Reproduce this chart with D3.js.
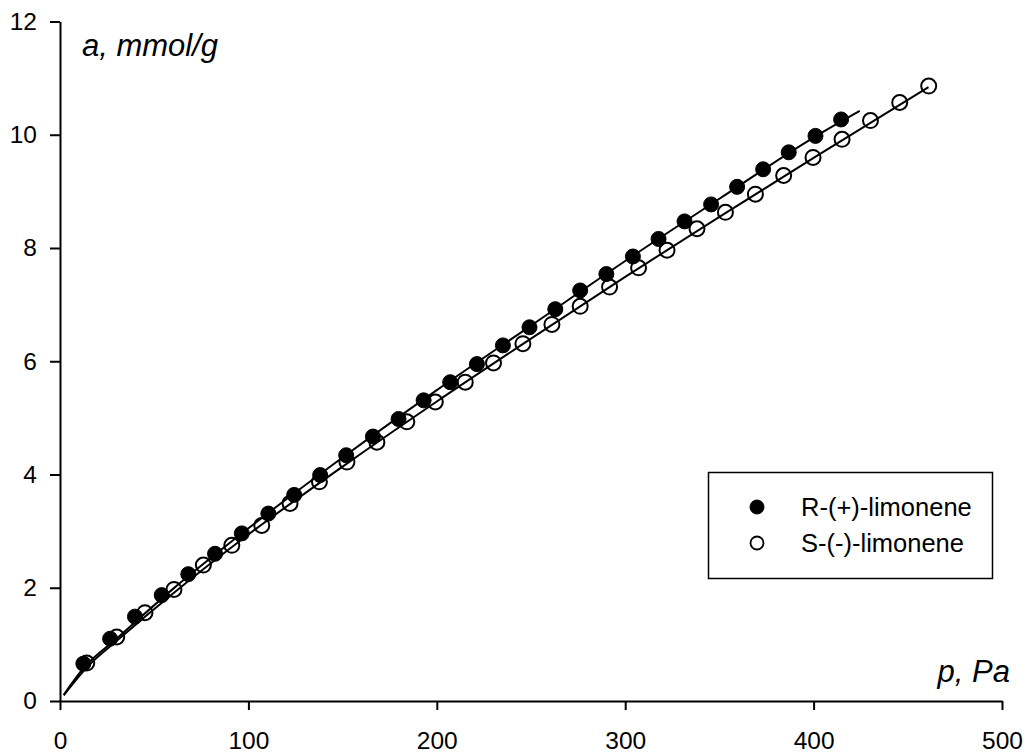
<!DOCTYPE html>
<html>
<head>
<meta charset="utf-8">
<script src="https://cdn.jsdelivr.net/npm/d3@7"></script>
<style>
  body { margin: 0; background: #fff; }
  text { font-family: "Liberation Sans", Arial, sans-serif; fill: #000; }
</style>
</head>
<body>
<div id="chart"></div>
<script>
// measured points, R-(+)-limonene (filled)
const rP = [12.4, 26.6, 39.8, 54.0, 68.1, 82.3, 96.5, 110.6, 124.3, 138.1, 151.9, 166.1, 179.7, 193.0, 207.1,
            221.3, 235.1, 249.2, 262.9, 276.1, 290.0, 304.1, 317.7, 331.5, 345.6, 359.4, 373.2, 386.8, 401.0, 414.6]
const rA = [0.66, 1.10, 1.49, 1.87, 2.24, 2.60, 2.96, 3.31, 3.64, 3.99, 4.34, 4.67, 4.98, 5.31, 5.63,
            5.95, 6.28, 6.60, 6.92, 7.25, 7.54, 7.85, 8.16, 8.47, 8.77, 9.08, 9.39, 9.69, 9.98, 10.27]

// measured points, S-(-)-limonene (open)
const sP = [14.2, 30.1, 45.1, 60.5, 76.1, 91.2, 107.1, 122.1, 137.7, 152.3, 168.2, 184.1, 199.2, 215.1, 230.1,
            245.7, 261.1, 276.1, 291.7, 307.1, 322.2, 338.1, 353.2, 369.1, 384.1, 399.7, 415.1, 430.2, 445.7, 461.1]
const sA = [0.67, 1.13, 1.56, 1.97, 2.40, 2.75, 3.10, 3.49, 3.87, 4.22, 4.57, 4.93, 5.28, 5.63, 5.97,
            6.31, 6.65, 6.97, 7.31, 7.65, 7.96, 8.34, 8.63, 8.95, 9.28, 9.60, 9.92, 10.25, 10.57, 10.86]

// fitted curves, nodes
const rFitP = [2, 13, 30, 60, 100, 150, 200, 250, 300, 350, 400, 424.5]
const rFitA = [0.11, 0.60, 1.10, 1.98, 3.05, 4.30, 5.49, 6.63, 7.77, 8.87, 9.95, 10.42]
const sFitP = [2, 15, 30, 60, 100, 150, 200, 250, 300, 350, 400, 461]
const sFitA = [0.10, 0.62, 1.06, 1.90, 2.94, 4.14, 5.29, 6.40, 7.49, 8.55, 9.59, 10.84]

const xTicks = [0, 100, 200, 300, 400, 500]
const yTicks = [0, 2, 4, 6, 8, 10, 12]
const seriesNames = ["R-(+)-limonene", "S-(-)-limonene"]

const W = 1029, H = 755

const x = d3.scaleLinear().domain([0, 500]).range([60, 1002])
const y = d3.scaleLinear().domain([0, 12]).range([701, 21.5])

const svg = d3.select("#chart").append("svg")
    .attr("width", W)
    .attr("height", H)

// axes
const xAxis = svg.append("g")
    .attr("transform", `translate(0,${y(0)})`)
    .call(d3.axisBottom(x).tickValues(xTicks).tickSize(9).tickSizeOuter(0).tickPadding(22))
const yAxis = svg.append("g")
    .attr("transform", `translate(${x(0)},0)`)
    .call(d3.axisLeft(y).tickValues(yTicks).tickSize(10).tickSizeOuter(0).tickPadding(13))

;[xAxis, yAxis].forEach(g => {
    g.select(".domain").attr("stroke", "#000").attr("stroke-width", 2)
    g.selectAll(".tick line").attr("stroke", "#000").attr("stroke-width", 2)
    g.selectAll(".tick text")
        .attr("font-size", 24.5)
        .attr("font-family", '"Liberation Sans", Arial, sans-serif')
        .attr("fill", "#000")
})

// axis titles
svg.append("text")
    .attr("x", 82).attr("y", 56)
    .attr("font-size", 31).attr("font-style", "italic")
    .text("a, mmol/g")
svg.append("text")
    .attr("x", 1010).attr("y", 682)
    .attr("text-anchor", "end")
    .attr("font-size", 31).attr("font-style", "italic")
    .text("p, Pa")

// fit lines
const line = d3.line()
    .x(d => x(d[0]))
    .y(d => y(d[1]))
    .curve(d3.curveMonotoneX)

const rFit = rFitP.map((p, i) => [p, rFitA[i]])
const sFit = sFitP.map((p, i) => [p, sFitA[i]])

;[rFit, sFit].forEach(d => {
    svg.append("path")
        .datum(d)
        .attr("d", line)
        .attr("fill", "none")
        .attr("stroke", "#000")
        .attr("stroke-width", 2)
})

// markers
const rData = rP.map((p, i) => ({ p: p, a: rA[i] }))
const sData = sP.map((p, i) => ({ p: p, a: sA[i] }))

svg.append("g").selectAll("circle")
    .data(rData)
    .enter()
    .append("circle")
    .attr("cx", d => x(d.p))
    .attr("cy", d => y(d.a))
    .attr("r", 7.5)
    .attr("fill", "#000")
    .attr("stroke", "#000")
    .attr("stroke-width", 1)

svg.append("g").selectAll("circle")
    .data(sData)
    .enter()
    .append("circle")
    .attr("cx", d => x(d.p))
    .attr("cy", d => y(d.a))
    .attr("r", 7.5)
    .attr("fill", "none")
    .attr("stroke", "#000")
    .attr("stroke-width", 2)

// legend
const legend = svg.append("g")
legend.append("rect")
    .attr("x", 708.5).attr("y", 472.5)
    .attr("width", 284).attr("height", 106)
    .attr("fill", "#fff")
    .attr("stroke", "#000")
    .attr("stroke-width", 1.5)

seriesNames.forEach((name, i) => {
    const cy = 507 + i * 36
    legend.append("circle")
        .attr("cx", 757).attr("cy", cy)
        .attr("r", i === 0 ? 7 : 6.5)
        .attr("fill", i === 0 ? "#000" : "none")
        .attr("stroke", "#000")
        .attr("stroke-width", i === 0 ? 1 : 1.8)
    legend.append("text")
        .attr("x", 801).attr("y", cy + 9)
        .attr("font-size", 25.5)
        .text(name)
})
</script>
</body>
</html>
